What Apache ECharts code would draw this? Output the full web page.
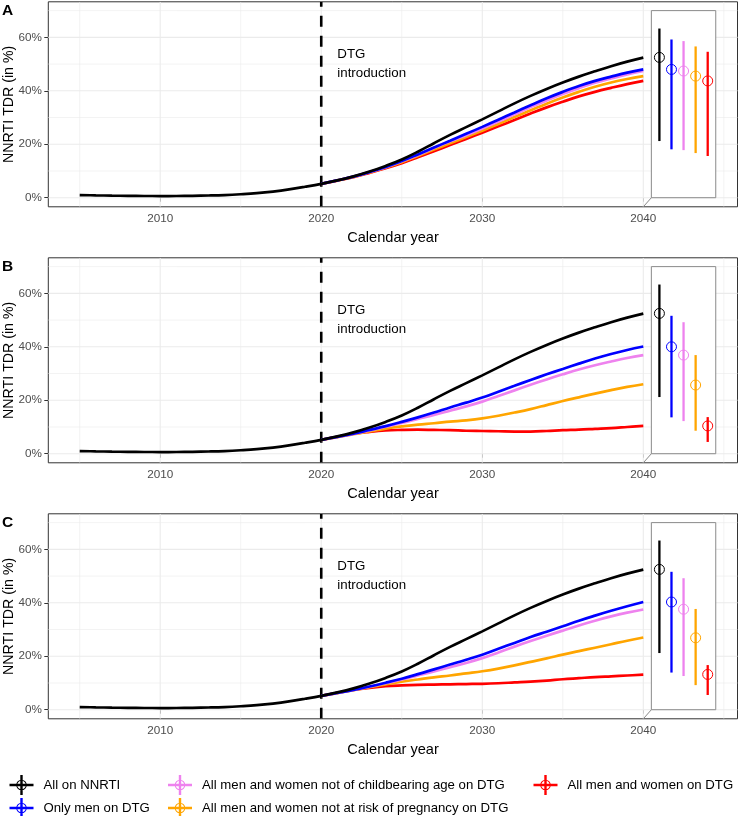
<!DOCTYPE html>
<html><head><meta charset="utf-8">
<script src="https://cdn.jsdelivr.net/npm/echarts@6/dist/echarts.min.js"></script>
<style>html,body{margin:0;padding:0;background:#fff}#c{width:740px;height:816px}</style>
</head><body><div id="c"></div>
<script>
// ---------- data ----------
const years = [2005,2006,2007,2008,2009,2010,2011,2012,2013,2014,2015,2016,2017,2018,2019,2020,2021,2022,2023,2024,2025,2026,2027,2028,2029,2030,2031,2032,2033,2034,2035,2036,2037,2038,2039,2040];
const blackValues = [1.0,0.88,0.78,0.7,0.65,0.63,0.64,0.7,0.82,1.0,1.3,1.7,2.3,3.1,4.1,5.2,6.5,8.0,9.8,11.9,14.3,17.2,20.4,23.5,26.4,29.3,32.3,35.3,38.1,40.7,43.1,45.3,47.3,49.2,50.9,52.4];
const projYears = [2020,2021,2022,2023,2024,2025,2026,2027,2028,2029,2030,2031,2032,2033,2034,2035,2036,2037,2038,2039,2040];

const aBlue   = [5.2,6.5,7.9,9.6,11.5,13.7,16.2,18.8,21.3,23.9,26.5,29.2,31.9,34.6,37.2,39.6,41.8,43.7,45.3,46.8,48.0];
const aViolet = [5.2,6.5,7.9,9.6,11.4,13.6,16.0,18.6,21.1,23.4,25.9,28.5,31.2,33.9,36.4,38.8,41.0,43.0,44.6,46.1,47.4];
const aOrange = [5.2,6.5,7.8,9.5,11.3,13.3,15.6,18.0,20.4,22.7,25.1,27.6,30.2,32.7,35.2,37.5,39.6,41.5,43.1,44.4,45.5];
const aRed    = [5.2,6.4,7.7,9.3,11.0,12.9,15.1,17.4,19.7,22.0,24.3,26.7,29.1,31.5,33.8,35.9,37.9,39.6,41.1,42.5,43.7];

const bBlue   = [5.2,6.3,7.5,8.9,10.3,11.9,13.6,15.4,17.3,19.1,21.0,23.2,25.4,27.6,29.7,31.7,33.7,35.6,37.3,38.8,40.1];
const bViolet = [5.2,6.3,7.4,8.7,10.1,11.5,13.0,14.5,16.1,17.7,19.5,21.6,23.7,25.8,27.8,29.7,31.5,33.1,34.5,35.8,36.9];
const bOrange = [5.2,6.2,7.3,8.3,9.4,10.2,10.9,11.4,12.0,12.5,13.2,14.2,15.4,16.7,18.2,19.7,21.1,22.5,23.8,25.0,26.0];
const bRed    = [5.2,6.3,7.5,8.2,8.7,8.9,9.0,8.9,8.8,8.6,8.5,8.4,8.3,8.3,8.5,8.8,9.0,9.3,9.6,10.0,10.4];

const cBlue   = [5.2,6.3,7.4,8.7,10.1,11.6,13.3,15.1,16.9,18.7,20.6,22.8,25.0,27.2,29.2,31.2,33.3,35.2,37.0,38.7,40.3];
const cViolet = [5.2,6.3,7.4,8.6,9.9,11.3,12.8,14.3,15.9,17.5,19.3,21.4,23.6,25.7,27.7,29.6,31.5,33.3,34.9,36.3,37.5];
const cOrange = [5.2,6.2,7.3,8.4,9.5,10.5,11.3,12.1,12.8,13.6,14.4,15.4,16.6,17.9,19.2,20.6,21.9,23.2,24.5,25.8,27.0];
const cRed    = [5.2,6.3,7.4,8.2,8.8,9.1,9.3,9.4,9.5,9.6,9.7,9.9,10.2,10.5,10.9,11.4,11.8,12.2,12.5,12.8,13.1];

// inset point ranges: [estimate, lower, upper] per scenario
const insetX = [2041, 2041.75, 2042.5, 2043.25, 2044];
const aInset = [[52.5,21.2,63.3],[48.0,18.1,59.2],[47.4,17.8,58.6],[45.5,16.7,56.6],[43.7,15.6,54.6]];
const bInset = [[52.5,21.2,63.3],[40.0,13.6,51.6],[36.9,12.2,49.2],[25.7,8.6,36.9],[10.4,4.4,13.7]];
const cInset = [[52.5,21.2,63.3],[40.3,13.9,51.6],[37.6,12.6,49.2],[26.9,9.2,37.7],[13.2,5.5,16.7]];

const scenarioNames = ['All on NNRTI','Only men on DTG','All men and women not of childbearing age on DTG','All men and women not at risk of pregnancy on DTG','All men and women on DTG'];
const scenarioColors = ['#000000','#0000FF','#EE82EE','#FFA500','#FF0000'];
const panelTags = ['A','B','C'];
const xTicks = [2010,2020,2030,2040];
const yTicks = [0,20,40,60];
const xGridMajor = [2010,2020,2030,2040];
const xGridMinor = [2005,2015,2025,2035,2045];
const yGridMajor = [0,20,40,60];
const yGridMinor = [10,30,50,70];
const dtgYear = 2020;
const insetBox = {x0: 2040.5, x1: 2044.5, y0: 0, y1: 70, anchorX: 2040};

// ---------- layout ----------
const X_MIN = 2003.05, X_MAX = 2045.85, Y_MIN = -3.4, Y_MAX = 73.3;
const GL = 48.3, GW = 689.2, GH = 205;
const gridTops = [1.8, 257.8, 513.8];
const FONT = 'Liberation Sans, Arial, Helvetica, sans-serif';

const panels = [
  {lines:[aBlue,aViolet,aOrange,aRed], inset:aInset},
  {lines:[bBlue,bViolet,bOrange,bRed], inset:bInset},
  {lines:[cBlue,cViolet,cOrange,cRed], inset:cInset}
];

const grids = [], xAxes = [], yAxes = [], series = [], graphics = [];

panels.forEach((p, k) => {
  grids.push({left: GL, top: gridTops[k], width: GW, height: GH, show: true,
    borderColor: '#333333', borderWidth: 1, backgroundColor: '#fff', containLabel: false, outerBoundsMode: 'none'});
  xAxes.push({type: 'value', gridIndex: k, min: X_MIN, max: X_MAX,
    axisLine: {show: false}, splitLine: {show: false},
    axisTick: {show: true, customValues: xTicks, length: 4, lineStyle: {color: '#333333', width: 1}},
    axisLabel: {customValues: xTicks, formatter: v => String(v), color: '#4D4D4D', fontSize: 11.7, fontFamily: FONT, margin: 5.5}});
  yAxes.push({type: 'value', gridIndex: k, min: Y_MIN, max: Y_MAX,
    axisLine: {show: false}, splitLine: {show: false},
    axisTick: {show: true, customValues: yTicks, length: 4, lineStyle: {color: '#333333', width: 1}},
    axisLabel: {customValues: yTicks, formatter: v => v + '%', color: '#4D4D4D', fontSize: 11.7, fontFamily: FONT, margin: 6.5}});

  // grid lines
  const gl = [];
  xGridMinor.forEach(v => gl.push([0, v, 0]));
  yGridMinor.forEach(v => gl.push([1, v, 0]));
  xGridMajor.forEach(v => gl.push([0, v, 1]));
  yGridMajor.forEach(v => gl.push([1, v, 1]));
  series.push({type: 'custom', xAxisIndex: k, yAxisIndex: k, z: 1, silent: true, clip: true, animation: false,
    data: gl,
    renderItem: (params, api) => {
      const o = api.value(0), v = api.value(1), major = api.value(2);
      const p1 = o === 0 ? api.coord([v, Y_MIN]) : api.coord([X_MIN, v]);
      const p2 = o === 0 ? api.coord([v, Y_MAX]) : api.coord([X_MAX, v]);
      return {type: 'line', shape: {x1: p1[0], y1: p1[1], x2: p2[0], y2: p2[1]},
        style: {stroke: '#EBEBEB', lineWidth: major ? 1.1 : 0.6}};
    }});

  // DTG introduction dashed line
  series.push({type: 'custom', xAxisIndex: k, yAxisIndex: k, z: 2, silent: true, clip: true, animation: false,
    data: [[dtgYear]],
    renderItem: (params, api) => {
      const p1 = api.coord([api.value(0), Y_MIN]), p2 = api.coord([api.value(0), Y_MAX]);
      return {type: 'line', shape: {x1: p1[0], y1: p1[1], x2: p2[0], y2: p2[1]},
        style: {stroke: '#000', lineWidth: 2.6, lineDash: [11, 9]}};
    }});

  // scenario lines (red first so black is on top)
  for (let i = 3; i >= 0; i--) {
    series.push({type: 'line', name: scenarioNames[i + 1], xAxisIndex: k, yAxisIndex: k, z: 3,
      data: projYears.map((y, j) => [y, p.lines[i][j]]), smooth: 0.4, showSymbol: false, symbol: 'none',
      lineStyle: {color: scenarioColors[i + 1], width: 2.7}, itemStyle: {color: scenarioColors[i + 1]},
      animation: false, silent: true, emphasis: {disabled: true}});
  }
  series.push({type: 'line', name: scenarioNames[0], xAxisIndex: k, yAxisIndex: k, z: 4,
    data: years.map((y, j) => [y, blackValues[j]]), smooth: 0.4, showSymbol: false, symbol: 'none',
    lineStyle: {color: scenarioColors[0], width: 2.7}, itemStyle: {color: scenarioColors[0]},
    animation: false, silent: true, emphasis: {disabled: true}});

  // inset box
  series.push({type: 'custom', xAxisIndex: k, yAxisIndex: k, z: 5, silent: true, clip: false, animation: false,
    data: [[insetBox.x0, insetBox.y0, insetBox.x1, insetBox.y1, insetBox.anchorX]],
    renderItem: (params, api) => {
      const a = api.coord([api.value(0), api.value(3)]);
      const b = api.coord([api.value(2), api.value(1)]);
      const c = api.coord([api.value(4), Y_MIN]);
      return {type: 'group', children: [
        {type: 'rect', shape: {x: a[0], y: a[1], width: b[0] - a[0], height: b[1] - a[1]},
          style: {fill: '#fff', stroke: '#8A8A8A', lineWidth: 1}},
        {type: 'line', shape: {x1: a[0], y1: b[1], x2: c[0], y2: c[1]}, style: {stroke: '#8A8A8A', lineWidth: 1}}
      ]};
    }});

  // inset point ranges
  series.push({type: 'custom', xAxisIndex: k, yAxisIndex: k, z: 6, silent: true, clip: false, animation: false,
    data: p.inset.map((r, i) => [insetX[i], r[0], r[1], r[2], i]),
    renderItem: (params, api) => {
      const col = scenarioColors[api.value(4)];
      const m = api.coord([api.value(0), api.value(1)]);
      const lo = api.coord([api.value(0), api.value(2)]);
      const hi = api.coord([api.value(0), api.value(3)]);
      return {type: 'group', children: [
        {type: 'line', shape: {x1: lo[0], y1: lo[1], x2: hi[0], y2: hi[1]}, style: {stroke: col, lineWidth: 2.3}},
        {type: 'circle', shape: {cx: m[0], cy: m[1], r: 5}, style: {fill: 'none', stroke: col, lineWidth: 1}}
      ]};
    }});

  // texts
  const top = gridTops[k];
  graphics.push({type: 'text', x: 2, y: top + 1, style: {text: panelTags[k], font: 'bold 15.5px ' + FONT, fill: '#000', align: 'left', verticalAlign: 'top'}});
  graphics.push({type: 'text', x: 8.7, y: top + 102.5, rotation: Math.PI / 2,
    style: {text: 'NNRTI TDR (in %)', font: '14.2px ' + FONT, fill: '#000', align: 'center', verticalAlign: 'middle'}});
  graphics.push({type: 'text', x: 393, y: top + 236.6,
    style: {text: 'Calendar year', font: '14.6px ' + FONT, fill: '#000', align: 'center', verticalAlign: 'middle'}});
  graphics.push({type: 'text', x: 337.3, y: top + 52.5,
    style: {text: 'DTG', font: '13.3px ' + FONT, fill: '#000', align: 'left', verticalAlign: 'middle'}});
  graphics.push({type: 'text', x: 337.3, y: top + 71.8,
    style: {text: 'introduction', font: '13.3px ' + FONT, fill: '#000', align: 'left', verticalAlign: 'middle'}});
});

const ICON = 'path://M0 8.8H24V11.2H0Z M10.8 0H13.2V20H10.8Z M17.3 10A5.3 5.3 0 1 1 6.7 10A5.3 5.3 0 1 1 17.3 10Z M16.3 10A4.3 4.3 0 1 0 7.7 10A4.3 4.3 0 1 0 16.3 10Z';
const legendBase = {orient: 'vertical', top: 775, height: 60, padding: 0, itemGap: 3, itemWidth: 24, itemHeight: 20, selectedMode: false,
  itemStyle: {borderWidth: 0}, textStyle: {fontSize: 13.2, fontFamily: FONT, color: '#000', padding: [0, 0, 0, 5]}};
const legends = [
  Object.assign({}, legendBase, {left: 9.5, data: [0, 1].map(i => ({name: scenarioNames[i], icon: ICON}))}),
  Object.assign({}, legendBase, {left: 168, data: [2, 3].map(i => ({name: scenarioNames[i], icon: ICON}))}),
  Object.assign({}, legendBase, {left: 533.5, data: [4].map(i => ({name: scenarioNames[i], icon: ICON}))})
];

const chart = echarts.init(document.getElementById('c'), null, {renderer: 'canvas'});
chart.setOption({
  animation: false,
  backgroundColor: '#fff',
  grid: grids, xAxis: xAxes, yAxis: yAxes, series: series,
  legend: legends,
  graphic: graphics
});
</script></body></html>
